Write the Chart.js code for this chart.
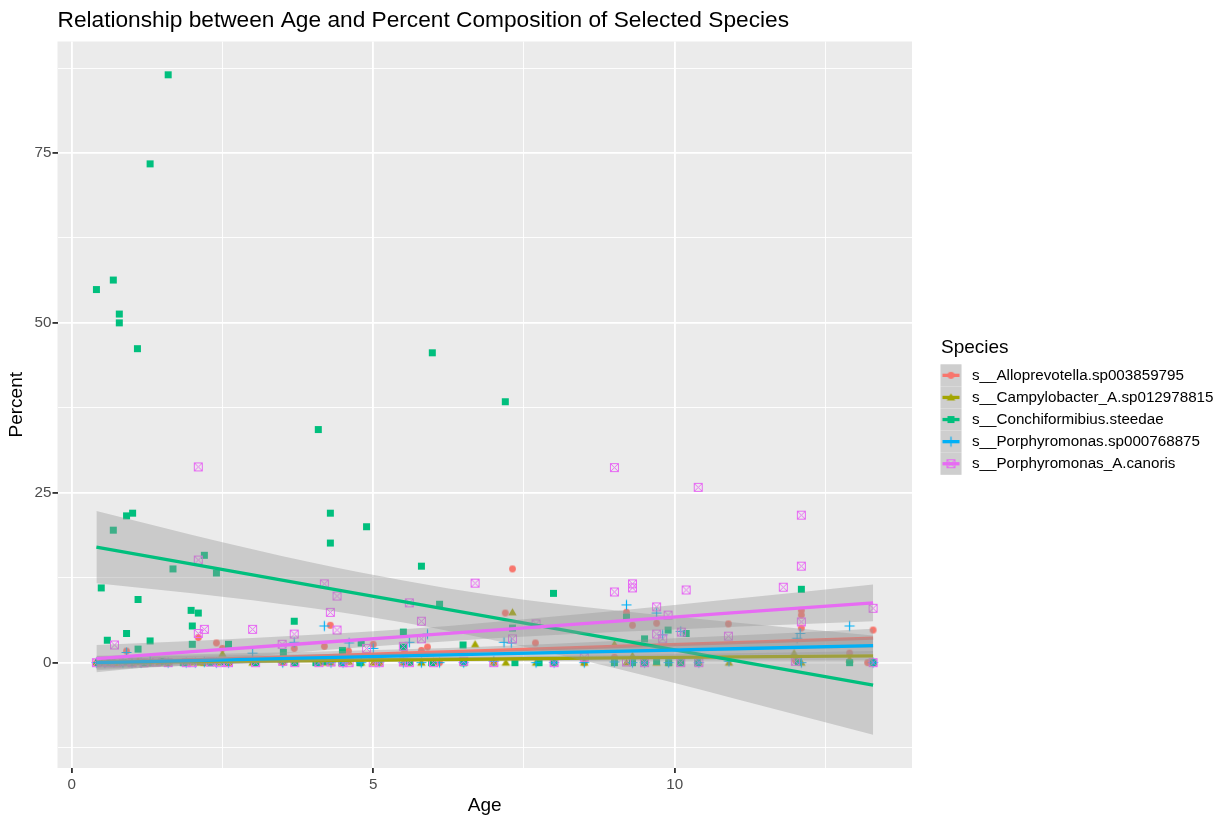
<!DOCTYPE html>
<html>
<head>
<meta charset="utf-8">
<script src="https://cdn.jsdelivr.net/npm/chart.js@4.4.1/dist/chart.umd.min.js"></script>
<style>
  html, body { margin: 0; padding: 0; background: #fff; }
  #wrap { width: 1226px; height: 819px; }
</style>
</head>
<body>
<div id="wrap"><canvas id="chart" width="1226" height="819"></canvas></div>
<script>
const chartTitle = 'Relationship between Age and Percent Composition of Selected Species';
const legendTitle = 'Species';
const speciesNames = [
  's__Alloprevotella.sp003859795',
  's__Campylobacter_A.sp012978815',
  's__Conchiformibius.steedae',
  's__Porphyromonas.sp000768875',
  's__Porphyromonas_A.canoris'
];
const speciesColors = ['#F8766D', '#A3A500', '#00BF7D', '#00B0F6', '#E76BF3'];
const speciesShapes = ['circle', 'triangle', 'square', 'plus', 'boxcross'];

// --- points (age, percent) per species ---
const alloAge = [7.31, 7.19, 7.69, 9.2, 9.3, 9.7, 5.8, 5.9, 5.0, 9.0, 4.29, 2.1, 2.4, 0.91, 3.69, 4.19, 4.59, 5.52, 10.89, 12.1, 12.1, 12.1, 13.29, 12.9, 2.5,
  0.41, 0.55, 0.7, 1.0, 1.1, 1.3, 1.6, 1.98, 2.2, 2.6, 3.0, 3.5, 4.09, 4.48, 4.78, 5.1, 5.6, 5.98, 6.1, 6.49, 7.0, 7.99, 8.5, 9.5, 9.9, 10.1, 10.38, 12.0, 13.2];
const alloPct = [13.8, 7.3, 2.9, 7.4, 5.5, 5.8, 1.8, 2.3, 2.7, 0.8, 5.5, 3.7, 2.9, 1.7, 2.1, 2.4, 1.7, 1.5, 5.7, 7.7, 7.0, 5.1, 4.8, 1.4, 2.1,
  0, 0.1, 0, 0, 0.2, 0, 0, 0.1, 0, 0, 0.3, 0, 0, 0.1, 0, 0, 0.2, 0, 0, 0, 0.1, 0, 0, 0.2, 0, 0, 0, 0.3, 0];

const campyAge = [7.31, 6.69, 9.0, 9.3, 2.5, 11.98, 12.9,
  0.41, 0.5, 0.6, 0.7, 0.8, 0.9, 1.0, 1.1, 1.2, 1.3, 1.45, 1.6, 1.9, 2.0, 2.1, 2.2, 2.3, 2.4, 2.6, 3.0, 3.5, 3.7, 4.1, 4.2, 4.3, 4.5, 4.6, 4.8, 5.0, 5.1,
  5.5, 5.6, 5.8, 6.0, 6.5, 7.0, 7.2, 7.7, 8.0, 8.5, 9.2, 9.5, 9.7, 9.9, 10.1, 10.4, 10.9, 12.1, 13.29];
const campyPct = [7.4, 2.7, 2.7, 1.0, 1.3, 1.4, 0.5,
  0, 0, 0.1, 0, 0, 0, 0, 0.1, 0, 0, 0, 0, 0, 0.1, 0, 0, 0, 0, 0, 0, 0.1, 0, 0, 0, 0, 0, 0.1, 0, 0, 0,
  0, 0, 0, 0.1, 0, 0, 0, 0, 0, 0, 0, 0.1, 0, 0, 0, 0, 0, 0, 0.1];

const conchAge = [1.6, 1.3, 0.41, 0.69, 0.79, 0.79, 1.09, 5.98, 4.09, 7.19, 4.29, 4.89, 1.01, 0.91, 0.69, 4.29, 2.2, 1.68, 2.4, 0.49,
  1.1, 1.98, 2.1, 2.0, 0.59, 0.91, 1.3, 1.1, 2.0, 2.6, 3.51, 3.69, 5.8, 6.1, 7.99, 5.5, 5.5, 6.49, 7.31, 9.2, 9.5, 9.89, 10.19, 12.1, 4.49, 4.8,
  0.45, 0.62, 0.85, 1.2, 1.5, 1.85, 2.3, 2.52, 3.05, 3.7, 4.05, 4.2, 4.48, 4.78, 5.6, 5.97, 6.5, 7.35, 7.75, 8.0, 9.0, 9.3, 9.5, 9.7, 9.9, 10.1, 10.38, 12.05, 12.9, 13.29];
const conchPct = [86.5, 73.4, 54.9, 56.3, 51.3, 50.0, 46.2, 45.6, 34.3, 38.4, 22.0, 20.0, 22.0, 21.6, 19.5, 17.6, 15.8, 13.8, 13.2, 11.0,
  9.3, 7.7, 7.3, 5.4, 3.3, 4.3, 3.2, 2.0, 2.7, 2.7, 1.5, 6.1, 14.2, 8.6, 10.2, 4.5, 2.3, 2.6, 5.1, 6.7, 3.5, 4.8, 4.3, 10.8, 1.8, 2.9,
  0, 0.1, 0, 0, 0.2, 0, 0, 0.1, 0, 0, 0, 0.2, 0, 0, 0.1, 0, 0, 0, 0, 0.1, 0, 0, 0, 0.2, 0, 0, 0, 0.1, 0, 0];

const porphAge = [9.2, 9.7, 5.9, 5.6, 5.0, 7.17, 7.29, 9.8, 4.19, 4.6, 10.1, 12.9, 12.08, 12.03, 3.0, 0.91, 3.69,
  0.41, 0.55, 0.7, 0.85, 1.0, 1.15, 1.3, 1.6, 1.9, 2.05, 2.2, 2.4, 2.6, 3.5, 4.1, 4.3, 4.5, 4.8, 5.1, 5.5, 5.8, 6.1, 6.5, 7.0, 7.7,
  8.0, 8.5, 9.0, 9.3, 9.5, 9.9, 10.4, 10.9, 12.1, 13.29];
const porphPct = [8.5, 7.3, 4.2, 3.0, 2.1, 3.0, 2.9, 4.1, 5.4, 2.9, 4.6, 5.4, 4.3, 3.6, 1.4, 1.5, 3.0,
  0, 0, 0.1, 0, 0, 0, 0.2, 0, 0, 0, 0.1, 0, 0, 0, 0.2, 0, 0, 0, 0.1, 0, 0, 0, 0, 0.2, 0,
  0, 0, 0.1, 0, 0, 0, 0, 0.2, 0, 0];

const canorisAge = [2.1, 9.0, 10.39, 12.1, 12.1, 10.19, 11.8, 13.29, 12.1, 10.89, 10.11, 9.8, 6.69, 5.6, 5.8, 5.8, 4.89, 7.7, 7.31,
  9.0, 9.3, 9.3, 9.7, 9.89, 9.7, 5.5, 8.5, 2.1, 2.2, 2.1, 3.0, 3.69, 4.29, 4.4, 4.19, 0.71, 3.49, 4.4,
  0.41, 0.5, 0.6, 0.75, 0.9, 1.0, 1.2, 1.4, 1.6, 1.9, 2.0, 2.3, 2.45, 2.6, 3.05, 3.5, 3.7, 4.1, 4.3, 4.5, 4.6, 5.0, 5.1, 5.5, 5.6,
  6.0, 6.5, 7.0, 8.0, 9.2, 9.5, 10.1, 10.4, 12.0, 13.29];
const canorisPct = [28.8, 28.7, 25.8, 21.7, 14.2, 10.7, 11.1, 8.0, 6.0, 3.9, 4.5, 3.5, 11.7, 8.8, 6.1, 3.5, 2.1, 5.7, 3.5,
  10.4, 11.6, 11.0, 8.2, 7.0, 4.2, 2.4, 0.8, 15.1, 4.9, 4.3, 4.9, 4.2, 7.4, 9.8, 11.6, 2.6, 2.7, 4.8,
  0, 0.1, 0, 0, 0.2, 0, 0, 0.1, 0, 0, 0, 0.1, 0, 0, 0, 0.2, 0, 0, 0.1, 0, 0, 0, 0, 0.1, 0,
  0, 0.2, 0, 0, 0.1, 0, 0, 0, 0.2, 0];

// --- linear fits with confidence bands, read at these ages ---
const fitAges = [0.41, 2, 4, 5.5, 7, 9, 11, 13.29];
const alloFit = [-0.05, 0.40, 0.97, 1.39, 1.82, 2.38, 2.95, 3.6];
const alloUpper = [1.0, 1.23, 1.61, 1.96, 2.43, 3.18, 4.0, 5.0];
const alloLower = [-1.1, -0.43, 0.34, 0.82, 1.21, 1.58, 1.9, 2.2];
const campyFit = [0.05, 0.17, 0.32, 0.43, 0.54, 0.69, 0.84, 1.0];
const campyUpper = [0.57, 0.59, 0.64, 0.71, 0.85, 1.09, 1.37, 1.7];
const campyLower = [-0.47, -0.25, 0.0, 0.15, 0.23, 0.29, 0.31, 0.3];
const conchFit = [17.0, 14.49, 11.34, 8.98, 6.61, 3.46, 0.31, -3.3];
const conchUpper = [22.3, 18.8, 14.7, 12.1, 9.9, 7.7, 5.9, 4.0];
const conchLower = [11.7, 10.2, 8.0, 5.9, 3.3, -0.8, -5.3, -10.6];
const porphFit = [0.0, 0.31, 0.70, 0.99, 1.28, 1.67, 2.05, 2.5];
const porphUpper = [0.9, 1.03, 1.24, 1.48, 1.80, 2.35, 2.96, 3.7];
const porphLower = [-0.9, -0.41, 0.16, 0.50, 0.76, 0.99, 1.14, 1.3];
const canorisFit = [0.6, 1.61, 2.89, 3.84, 4.80, 6.07, 7.35, 8.8];
const canorisUpper = [2.6, 3.2, 4.1, 4.9, 6.0, 7.6, 9.4, 11.5];
const canorisLower = [-1.4, 0.0, 1.7, 2.7, 3.6, 4.5, 5.3, 6.1];

// tick labels
const xTickLabels = [0, 5, 10];
const yTickLabels = [0, 25, 50, 75];

const pointSets = [[alloAge, alloPct], [campyAge, campyPct], [conchAge, conchPct], [porphAge, porphPct], [canorisAge, canorisPct]];
const fitSets = [[alloFit, alloUpper, alloLower], [campyFit, campyUpper, campyLower], [conchFit, conchUpper, conchLower],
  [porphFit, porphUpper, porphLower], [canorisFit, canorisUpper, canorisLower]];

const FONT = "'Liberation Sans', Arial, sans-serif";
const RIBBON = 'rgba(153,153,153,0.4)';

function makeMarker(shape, color) {
  const c = document.createElement('canvas');
  c.width = 13; c.height = 13;
  const g = c.getContext('2d');
  g.fillStyle = color;
  g.strokeStyle = color;
  if (shape === 'circle') {
    g.beginPath(); g.arc(6.5, 6.5, 3.4, 0, Math.PI * 2); g.fill();
  } else if (shape === 'triangle') {
    g.beginPath(); g.moveTo(6.5, 2.3); g.lineTo(10.7, 9.5); g.lineTo(2.3, 9.5); g.closePath(); g.fill();
  } else if (shape === 'square') {
    g.fillRect(3, 3, 7, 7);
  } else if (shape === 'plus') {
    g.lineWidth = 1.2;
    g.beginPath(); g.moveTo(1.5, 6.5); g.lineTo(11.5, 6.5); g.moveTo(6.5, 1.5); g.lineTo(6.5, 11.5); g.stroke();
  } else {
    g.lineWidth = 1;
    g.strokeRect(2.5, 2.5, 8, 8);
    g.beginPath(); g.moveTo(2.5, 2.5); g.lineTo(10.5, 10.5); g.moveTo(10.5, 2.5); g.lineTo(2.5, 10.5); g.stroke();
  }
  return c;
}
const markers = speciesShapes.map((s, i) => makeMarker(s, speciesColors[i]));

const datasets = [];
speciesNames.forEach((name, i) => {
  const [ages, pcts] = pointSets[i];
  datasets.push({
    label: name,
    data: ages.map((a, k) => ({ x: a, y: pcts[k] })),
    pointStyle: markers[i],
    pointRadius: 4,
    showLine: false,
    order: 105 - i
  });
});
speciesNames.forEach((name, i) => {
  const [fit, upper, lower] = fitSets[i];
  datasets.push({
    label: name + ' upper',
    data: fitAges.map((a, k) => ({ x: a, y: upper[k] })),
    showLine: true, pointRadius: 0, borderWidth: 0, borderColor: 'transparent',
    fill: '+1', backgroundColor: RIBBON,
    tension: 0.4, cubicInterpolationMode: 'monotone',
    order: 50 - 2 * i
  });
  datasets.push({
    label: name + ' lower',
    data: fitAges.map((a, k) => ({ x: a, y: lower[k] })),
    showLine: true, pointRadius: 0, borderWidth: 0, borderColor: 'transparent',
    fill: false, tension: 0.4, cubicInterpolationMode: 'monotone',
    order: 50 - 2 * i
  });
  datasets.push({
    label: name + ' fit',
    data: fitAges.map((a, k) => ({ x: a, y: fit[k] })),
    showLine: true, pointRadius: 0, borderWidth: 3.3, borderColor: speciesColors[i],
    fill: false, tension: 0,
    order: 49 - 2 * i
  });
});

const isMajor = (v, step) => Math.abs(v / step - Math.round(v / step)) < 1e-6;

const ggDecor = {
  id: 'ggDecor',
  beforeDraw(chart) {
    const { ctx, chartArea: a } = chart;
    ctx.save();
    ctx.fillStyle = '#FFFFFF';
    ctx.fillRect(0, 0, chart.width, chart.height);
    ctx.fillStyle = '#EBEBEB';
    ctx.fillRect(a.left, a.top, a.right - a.left, a.bottom - a.top);
    ctx.restore();
  },
  afterDraw(chart) {
    const ctx = chart.ctx;
    ctx.save();
    // title
    ctx.fillStyle = '#000000';
    ctx.font = '22.7px ' + FONT;
    ctx.textBaseline = 'middle';
    ctx.textAlign = 'left';
    ctx.fillText(chartTitle, 57.5, 21);
    // legend
    ctx.font = '19px ' + FONT;
    ctx.fillText(legendTitle, 941, 348);
    const keyX = 940.5, keyW = 21, keyH = 22.1, top0 = 364.3;
    ctx.font = '15.2px ' + FONT;
    speciesNames.forEach((name, i) => {
      const y = top0 + i * keyH;
      ctx.fillStyle = '#F2F2F2';
      ctx.fillRect(keyX, y, keyW, keyH);
      ctx.fillStyle = RIBBON;
      ctx.fillRect(keyX, y, keyW, keyH);
      const cy = y + keyH / 2;
      ctx.strokeStyle = speciesColors[i];
      ctx.lineWidth = 3.3;
      ctx.beginPath();
      ctx.moveTo(keyX + 2, cy);
      ctx.lineTo(keyX + keyW - 2, cy);
      ctx.stroke();
      ctx.drawImage(markers[i], keyX + keyW / 2 - 6.5, cy - 6.5);
      ctx.fillStyle = '#000000';
      ctx.fillText(name, 972, cy);
    });
    ctx.restore();
  }
};

new Chart(document.getElementById('chart'), {
  type: 'scatter',
  data: { datasets },
  options: {
    responsive: false,
    animation: false,
    events: [],
    layout: { padding: { left: 0, top: 41.5, right: 314, bottom: 0 } },
    plugins: { legend: { display: false }, tooltip: { enabled: false }, title: { display: false } },
    scales: {
      x: {
        type: 'linear', min: -0.235, max: 13.935,
        border: { display: false },
        grid: {
          color: '#FFFFFF',
          lineWidth: c => isMajor(c.tick.value, 5) ? 1.85 : 0.9,
          drawTicks: true, tickLength: 5, tickWidth: 1.85,
          tickColor: c => isMajor(c.tick.value, 5) ? '#333333' : 'rgba(0,0,0,0)'
        },
        ticks: {
          stepSize: 2.5, includeBounds: false, autoSkip: false, maxRotation: 0, padding: 3,
          color: '#4D4D4D', font: { family: FONT, size: 15.2 },
          callback: v => xTickLabels.some(t => Math.abs(t - v) < 1e-6) ? String(Math.round(v)) : ''
        },
        title: { display: true, text: 'Age', color: '#000000', font: { family: FONT, size: 19 }, padding: { top: 0, bottom: 1.6 } },
        afterFit: s => { s.height = 51; }
      },
      y: {
        type: 'linear', min: -15.5, max: 91.4,
        border: { display: false },
        grid: {
          color: '#FFFFFF',
          lineWidth: c => isMajor(c.tick.value, 25) ? 1.85 : 0.9,
          drawTicks: true, tickLength: 5, tickWidth: 1.85,
          tickColor: c => isMajor(c.tick.value, 25) ? '#333333' : 'rgba(0,0,0,0)'
        },
        ticks: {
          stepSize: 12.5, includeBounds: false, autoSkip: false, padding: 1,
          color: '#4D4D4D', font: { family: FONT, size: 15.2 },
          callback: v => yTickLabels.some(t => Math.abs(t - v) < 1e-6) ? String(Math.round(v)) : ''
        },
        title: { display: true, text: 'Percent', color: '#000000', font: { family: FONT, size: 19 }, padding: { top: 5.6, bottom: 0 } },
        afterFit: s => { s.width = 57.5; }
      }
    }
  },
  plugins: [ggDecor]
});
</script>
</body>
</html>
